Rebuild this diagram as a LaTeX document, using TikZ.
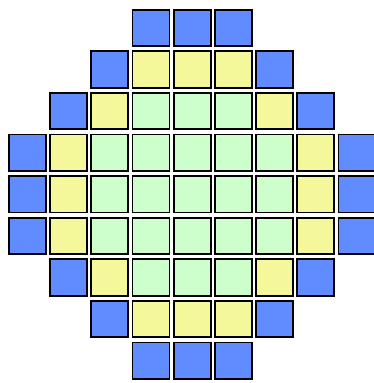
\documentclass[tikz,border=0pt]{standalone}
\definecolor{colB}{RGB}{96,140,255}
\definecolor{colY}{RGB}{245,247,155}
\definecolor{colG}{RGB}{204,255,204}
\begin{document}
\begin{tikzpicture}[x=1pt,y=-1pt,
  cell/.style={draw=black, line width=1.8pt, minimum width=36.9pt, minimum height=36.5pt, inner sep=0pt, outer sep=0pt}]
\useasboundingbox (0,0) rectangle (374,383);
\foreach \r/\cells in {
  0/{3/B,4/B,5/B},
  1/{2/B,3/Y,4/Y,5/Y,6/B},
  2/{1/B,2/Y,3/G,4/G,5/G,6/Y,7/B},
  3/{0/B,1/Y,2/G,3/G,4/G,5/G,6/G,7/Y,8/B},
  4/{0/B,1/Y,2/G,3/G,4/G,5/G,6/G,7/Y,8/B},
  5/{0/B,1/Y,2/G,3/G,4/G,5/G,6/G,7/Y,8/B},
  6/{1/B,2/Y,3/G,4/G,5/G,6/Y,7/B},
  7/{2/B,3/Y,4/Y,5/Y,6/B},
  8/{3/B,4/B,5/B}}{
  \foreach \c/\k in \cells {
    \node[cell, fill=col\k] (s\r\c) at ({27.4+41.2*\c},{27.9+41.6*\r}) {};
  }
}
\end{tikzpicture}
\end{document}
